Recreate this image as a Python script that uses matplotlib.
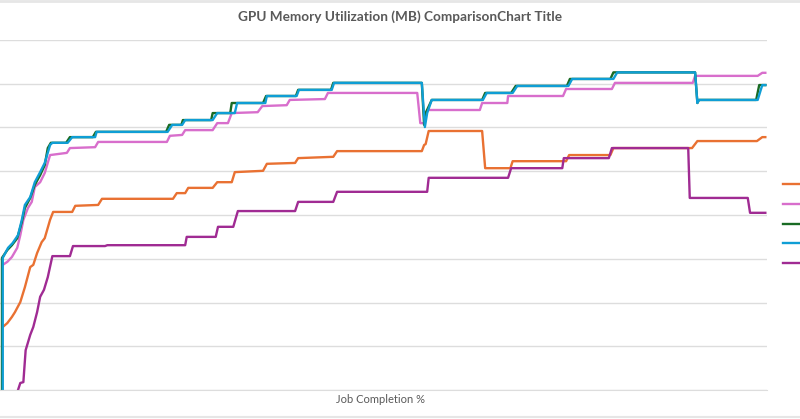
import matplotlib
matplotlib.use("Agg")
import matplotlib.pyplot as plt
from matplotlib.lines import Line2D

# job completion (%) and GPU memory (MB)
orange_x = [0.1, 0.7, 1.3, 1.7, 2.4, 3.0, 3.7, 4.1, 4.6, 5.2, 5.6, 6.3, 6.7, 9.2, 9.6, 12.6, 13.1, 22.4, 22.9, 24.0,
            24.4, 27.6, 28.2, 30.1, 30.5, 34.2, 34.7, 38.4, 38.8, 43.4, 43.9, 55.0, 55.3, 55.5, 55.9, 62.9, 63.3,
            66.6, 66.9, 73.9, 74.3, 79.7, 80.1, 90.4, 91.1, 98.9, 99.6, 100.0]
orange_y = [1440, 1530, 1670, 1780, 2010, 2350, 2810, 2860, 3130, 3380, 3470, 3890, 4070, 4070, 4210, 4230, 4370,
            4370, 4500, 4500, 4620, 4620, 4750, 4750, 4980, 5010, 5170, 5190, 5300, 5330, 5460, 5460, 5600, 5620,
            5920, 5920, 5070, 5070, 5230, 5230, 5370, 5370, 5530, 5530, 5690, 5690, 5780, 5780]

pink_x = [0.1, 0.7, 1.3, 2.0, 2.4, 2.8, 3.4, 3.9, 4.3, 5.0, 5.6, 6.3, 8.5, 8.9, 12.2, 12.6, 21.6, 22.0, 23.6, 24.0,
          27.6, 28.2, 29.6, 30.1, 33.5, 34.1, 37.3, 37.7, 42.3, 42.7, 54.4, 54.8, 55.3, 55.7, 62.6, 62.9, 66.2,
          66.3, 73.5, 73.9, 79.9, 80.3, 90.5, 90.8, 99.0, 99.6, 100.0]
pink_y = [2860, 2930, 3040, 3250, 3540, 3890, 4160, 4300, 4640, 4750, 4960, 5370, 5420, 5530, 5550, 5670, 5670,
          5810, 5830, 5940, 5940, 6100, 6100, 6330, 6350, 6490, 6510, 6630, 6650, 6790, 6790, 6100, 6100, 6400,
          6400, 6560, 6560, 6720, 6720, 6880, 6880, 7020, 7020, 7180, 7180, 7250, 7250]

green_x = [0.0, 0.0, 0.7, 1.3, 2.0, 2.6, 3.0, 3.7, 4.3, 5.0, 5.6, 6.0, 6.4, 8.4, 8.9, 11.9, 12.3, 21.5, 21.9, 23.5,
           23.7, 27.4, 27.6, 29.9, 30.1, 34.2, 34.6, 38.5, 38.8, 43.1, 43.4, 55.0, 55.3, 55.5, 56.3, 62.9, 63.3,
           66.7, 67.3, 74.0, 74.4, 79.7, 80.1, 90.8, 91.1, 91.3, 98.8, 99.2, 100.0]
green_y = [0, 3020, 3200, 3310, 3470, 3840, 4160, 4390, 4690, 4910, 5140, 5530, 5650, 5650, 5780, 5780, 5900, 5900,
           6060, 6060, 6170, 6170, 6330, 6330, 6560, 6560, 6720, 6720, 6860, 6860, 7020, 7020, 6060, 6330, 6630,
           6630, 6790, 6790, 6950, 6950, 7110, 7110, 7260, 7260, 6560, 6630, 6630, 6970, 6970]

blue_x = [0.1, 0.1, 0.8, 1.4, 2.1, 2.6, 3.0, 3.7, 4.3, 5.0, 5.6, 6.3, 6.6, 8.6, 9.2, 12.2, 12.4, 21.7, 22.3, 23.6,
          24.0, 27.6, 28.2, 30.5, 30.8, 34.5, 34.7, 38.6, 38.9, 43.2, 43.5, 55.0, 55.4, 55.7, 56.3, 63.0, 63.5,
          66.9, 67.5, 74.2, 74.7, 80.1, 80.6, 90.8, 91.1, 91.3, 99.0, 99.6, 100.0]
blue_y = [0, 3020, 3250, 3360, 3540, 3890, 4230, 4410, 4750, 4980, 5190, 5600, 5650, 5650, 5780, 5780, 5900, 5900,
          6060, 6060, 6170, 6170, 6330, 6330, 6560, 6560, 6720, 6720, 6860, 6860, 7020, 7020, 6010, 6330, 6630,
          6630, 6790, 6790, 6950, 6950, 7110, 7110, 7260, 7260, 6560, 6630, 6630, 6970, 6970]

purple_x = [2.1, 2.4, 2.8, 3.1, 3.7, 4.1, 4.6, 5.0, 5.5, 6.0, 6.6, 8.9, 9.3, 13.5, 13.8, 24.0, 24.2, 28.0, 28.3,
            30.3, 30.9, 38.4, 38.8, 43.4, 43.9, 55.7, 55.9, 66.3, 66.7, 73.4, 73.6, 79.5, 79.9, 89.9, 90.1, 97.7,
            98.0, 100.0]
purple_y = [0, 160, 180, 910, 1260, 1440, 1780, 2130, 2290, 2580, 3060, 3060, 3290, 3290, 3310, 3310, 3500, 3500,
            3730, 3730, 4090, 4090, 4300, 4300, 4530, 4530, 4850, 4850, 5070, 5070, 5300, 5300, 5530, 5530, 4390,
            4390, 4050, 4050]

series = [
    (orange_x, orange_y, "#E97132"),
    (pink_x, pink_y, "#D86ECC"),
    (green_x, green_y, "#196B24"),
    (blue_x, blue_y, "#0F9ED5"),
    (purple_x, purple_y, "#A02B93"),
]

grid_c = "#DDDDDD"
text_c = "#595959"

fig = plt.figure(figsize=(8, 4.19), dpi=100)
ax = fig.add_axes([0.0, (419 - 390) / 419, 767 / 800, 350 / 419])

handles = []
for xs, ys, col in series:
    line, = ax.plot(xs, ys, color=col, lw=1.7, solid_joinstyle="round")
    handles.append(line)

ax.set_xlim(-0.26, 100.22)
ax.set_ylim(0, 8000)
ax.set_yticks(range(0, 8001, 1000))
ax.set_xticks([])
ax.tick_params(left=False, labelleft=False)
ax.grid(axis="y", color=grid_c, lw=1)
ax.set_axisbelow(True)
for s in ["left", "right", "top"]:
    ax.spines[s].set_visible(False)
ax.spines["bottom"].set_color(grid_c)

fig.text(0.5, 1 - 17 / 419, "GPU Memory Utilization (MB) ComparisonChart Title", ha="center", va="center",
         fontsize=9.8, fontweight="bold", color=text_c, family="Lato")
fig.text(381 / 800, 1 - 399 / 419, "Job Completion %", ha="center", va="center", fontsize=8,
         color=text_c, family="Lato")

# legend: only the line keys are inside the screenshot, the names are cropped away
fig.legend(handles, [""] * len(handles), loc="upper left", bbox_to_anchor=(772 / 800, 1 - 167 / 419),
           frameon=False, handlelength=2.6, labelspacing=0.55, fontsize=9)

# faint border lines of the screenshot
fig.add_artist(Line2D([0, 1], [1 - 1.5 / 419, 1 - 1.5 / 419], color="#E6E6E6", lw=2))
fig.add_artist(Line2D([0, 1], [1 - 416.5 / 419, 1 - 416.5 / 419], color="#E6E6E6", lw=1.5))

fig.savefig("out.png", dpi=100)
